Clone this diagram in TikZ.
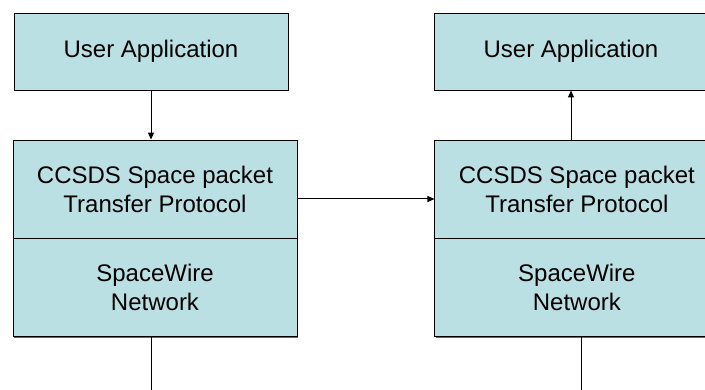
\documentclass[tikz,border=0pt]{standalone}
\usepackage{fontspec}
\setmainfont{Liberation Sans}
\usepackage{tikz}
\usetikzlibrary{arrows.meta,positioning,shadows}
\definecolor{layerfill}{HTML}{BBE0E3}

\begin{document}
\begin{tikzpicture}[x=1pt,y=-1pt,
    layer/.style={rectangle,draw=black,fill=layerfill,line width=0.9pt,
      inner sep=0pt,align=center,font=\fontsize{24}{29}\selectfont,
      drop shadow={shadow xshift=0.8pt,shadow yshift=-1pt,fill=black!60,opacity=1}},
    >={Triangle[length=7pt,width=6pt]}]
  \clip (0,0) rectangle (705,390);
  \fill[white] (0,0) rectangle (705,390);
  \begin{scope}[every node/.style={layer}]
    \node[minimum width=274pt,minimum height=77pt] (uaL) at (151,51.5) {User Application};
    \node[minimum width=284pt,minimum height=98pt] (ccsdsL) at (155,189) {CCSDS Space packet\\Transfer Protocol};
    \node[minimum width=284pt,minimum height=98pt,below=0pt of ccsdsL] (swL) {SpaceWire\\Network};
    \node[minimum width=274pt,minimum height=77pt] (uaR) at (571,51.5) {User Application};
    \node[minimum width=284pt,minimum height=98pt,right=137pt of ccsdsL] (ccsdsR) {CCSDS Space packet\\Transfer Protocol};
    \node[minimum width=284pt,minimum height=98pt,below=0pt of ccsdsR] (swR) {SpaceWire\\Network};
  \end{scope}
  \coordinate (linkL) at ([xshift=-4pt]swL.south |- 0,390);
  \coordinate (linkR) at ([xshift=5pt]swR.south |- 0,390);
  \begin{scope}[line width=1pt]
    \draw[->] (uaL.south) -- (uaL.south |- ccsdsL.north);
    \draw[->] (ccsdsR.north -| uaR.south) -- (uaR.south);
    \draw[->] ([yshift=-10pt]ccsdsL.east) -- ([yshift=-10pt]ccsdsR.west);
    \draw ([xshift=-4pt]swL.south) -- (linkL);
    \draw ([xshift=5pt]swR.south) -- (linkR);
  \end{scope}
\end{tikzpicture}
\end{document}
